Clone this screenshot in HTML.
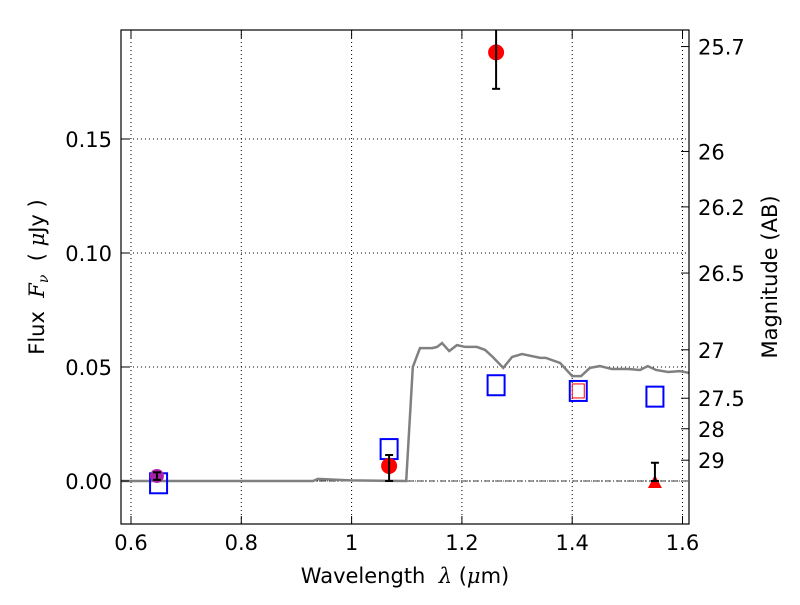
<!DOCTYPE html>
<html><head><meta charset="utf-8"><style>
body{margin:0;background:#fff}
svg{font-family:"DejaVu Sans","Liberation Sans",sans-serif}
text{white-space:pre}
</style></head><body>
<svg id="c" width="800" height="600" xmlns="http://www.w3.org/2000/svg"></svg>
<script>
const specX=[0.582,0.930,0.939,0.997,1.099,1.111,1.124,1.146,1.155,1.164,1.177,1.191,1.206,1.227,1.242,1.256,1.275,1.291,1.309,1.342,1.352,1.378,1.400,1.416,1.432,1.450,1.472,1.501,1.523,1.537,1.552,1.574,1.595,1.612];
const specY=[0,0,0.0009,0.0003,0,0.050,0.0583,0.0583,0.0588,0.0605,0.057,0.0596,0.0588,0.0588,0.0575,0.0544,0.0496,0.0544,0.0557,0.054,0.054,0.0518,0.046,0.046,0.0496,0.0504,0.0491,0.0491,0.0487,0.0504,0.0487,0.0478,0.0482,0.0474];
const obsX=[1.068,1.262];
const obsY=[0.0066,0.188];
const obsLo=[0.0,0.172];
const obsHi=[0.0114,0.205];
const purX=[0.647], purY=[0.0022], purLo=[0.0005], purHi=[0.0038];
const limX=[1.55], limY=[0], limHi=[0.008];
const modX=[0.65,1.068,1.262,1.411,1.55];
const modY=[-0.001,0.014,0.042,0.0395,0.037];
const redSqX=[1.411], redSqY=[0.0395];
const xTicks=[0.6,0.8,1.0,1.2,1.4,1.6], xLabels=["0.6","0.8","1","1.2","1.4","1.6"];
const yTicks=[0,0.05,0.10,0.15], yLabels=["0.00","0.05","0.10","0.15"];
const magTicks=[25.7,26,26.2,26.5,27,27.5,28,29], magLabels=["25.7","26","26.2","26.5","27","27.5","28","29"];

const L=121,R=689,T=30,B=524;
const X=v=>131+(v-0.6)*551.5;
const Y=v=>481-v*2280;
const svg=document.getElementById('c');
const NS="http://www.w3.org/2000/svg";
function mk(tag,attrs,name,parent){const e=document.createElementNS(NS,tag);for(const k in attrs)e.setAttribute(k,attrs[k]);


(parent||svg).appendChild(e);return e;}
const clip=mk('clipPath',{id:'cp'},'plot-clip');mk('rect',{x:L,y:T,width:R-L,height:B-T},'clip-rect',clip);
const g=mk('g',{'clip-path':'url(#cp)'},'plot-area');
xTicks.forEach((t,i)=>{mk('line',{x1:X(t),x2:X(t),y1:T,y2:B,stroke:'#000','stroke-dasharray':'1,3','stroke-width':1},'x-grid-'+i,g);});
yTicks.forEach((t,i)=>{mk('line',{x1:L,x2:R,y1:Y(t),y2:Y(t),stroke:'#000','stroke-dasharray':'1,3','stroke-width':1},'y-grid-'+i,g);});
mk('line',{x1:L,x2:R,y1:Y(0),y2:Y(0),stroke:'#000','stroke-dasharray':'6,2,1,2','stroke-width':0.8},'zero-line',g);
mk('polyline',{points:specX.map((x,i)=>X(x)+','+Y(specY[i])).join(' '),fill:'none',stroke:'#808080','stroke-width':2.5},'model-spectrum',g);
modX.forEach((x,i)=>mk('rect',{x:X(x)-8.5,y:Y(modY[i])-10,width:17,height:20,fill:'none',stroke:'#0000ff','stroke-width':2},'model-flux-'+i,g));
redSqX.forEach((x,i)=>mk('rect',{x:X(x)-6,y:Y(redSqY[i])-7,width:12,height:14,fill:'none',stroke:'#ff0000','stroke-width':1},'red-square-'+i,g));
function err(x,lo,hi,name){mk('line',{x1:X(x),x2:X(x),y1:Y(lo),y2:Y(hi),stroke:'#000','stroke-width':2},name,g);
[lo,hi].forEach((v,j)=>mk('line',{x1:X(x)-4,x2:X(x)+4,y1:Y(v),y2:Y(v),stroke:'#000','stroke-width':2},name+'-cap'+j,g));}
obsX.forEach((x,i)=>{mk('circle',{cx:X(x),cy:Y(obsY[i]),r:8,fill:'#ff0000'},'observed-flux-'+i,g);err(x,obsLo[i],obsHi[i],'obs-err-'+i);});
purX.forEach((x,i)=>{mk('circle',{cx:X(x),cy:Y(purY[i]),r:7,fill:'#aa22aa'},'purple-point-'+i,g);err(x,purLo[i],purHi[i],'pur-err-'+i);});
limX.forEach((x,i)=>{const cx=X(x),cy=Y(limY[i]);mk('polygon',{points:`${cx-7},${cy+7} ${cx+7},${cy+7} ${cx},${cy-6}`,fill:'#ff0000'},'upper-limit-'+i,g);err(x,limY[i],limHi[i],'lim-err-'+i);});
mk('rect',{x:L,y:T,width:R-L,height:B-T,fill:'none',stroke:'#000','stroke-width':1.2},'plot-frame');
xTicks.forEach((t,i)=>{const x=X(t);mk('line',{x1:x,x2:x,y1:B,y2:B-8,stroke:'#000'},'x-tick-'+i);mk('line',{x1:x,x2:x,y1:T,y2:T+8,stroke:'#000'},'x-tick-top-'+i);
const tx=mk('text',{x:x,y:B+26,'font-size':21,'text-anchor':'middle'},'x-tick-label-'+i);tx.textContent=xLabels[i];});
yTicks.forEach((t,i)=>{const y=Y(t);mk('line',{x1:L,x2:L+8,y1:y,y2:y,stroke:'#000'},'y-tick-'+i);
const tx=mk('text',{x:L-9,y:y+8,'font-size':21,'text-anchor':'end'},'y-tick-label-'+i);tx.textContent=yLabels[i];});
magTicks.forEach((m,i)=>{const y=Y(Math.pow(10,(23.9-m)/2.5));mk('line',{x1:R,x2:R-8,y1:y,y2:y,stroke:'#000'},'mag-tick-'+i);
const tx=mk('text',{x:R+9,y:y+8,'font-size':21},'mag-tick-label-'+i);tx.textContent=magLabels[i];});
const xl=mk('text',{x:405,y:583,'font-size':21,'text-anchor':'middle'},'x-axis-title');xl.innerHTML='Wavelength  <tspan font-style="italic" font-family="DejaVu Serif,serif">λ</tspan> (<tspan font-style="italic" font-family="DejaVu Serif,serif">μ</tspan>m)';
const yl=mk('text',{x:44,y:277,'font-size':21,'text-anchor':'middle',transform:'rotate(-90 44 277)'},'y-axis-title');yl.innerHTML='Flux  <tspan font-style="italic" font-family="DejaVu Serif,serif">F</tspan><tspan font-style="italic" font-size="14" dy="4" font-family="DejaVu Serif,serif">ν</tspan><tspan dy="-4">  ( </tspan><tspan font-style="italic" font-family="DejaVu Serif,serif">μ</tspan>Jy )';
const ml=mk('text',{x:777,y:277,'font-size':21,'text-anchor':'middle',transform:'rotate(-90 777 277)'},'magnitude-axis-title');ml.textContent='Magnitude (AB)';
</script>
</body></html>
